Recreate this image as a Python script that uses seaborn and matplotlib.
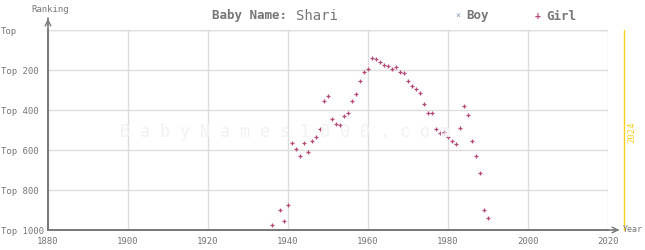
import matplotlib
matplotlib.use("Agg")
import matplotlib.pyplot as plt
import seaborn as sns
import pandas as pd

girl_years = [1936, 1938, 1939, 1940, 1941, 1942, 1943, 1944, 1945, 1946, 1947, 1948,
              1949, 1950, 1951, 1952, 1953, 1954, 1955, 1956, 1957, 1958, 1959, 1960,
              1961, 1962, 1963, 1964, 1965, 1966, 1967, 1968, 1969, 1970, 1971, 1972,
              1973, 1974, 1975, 1976, 1977, 1978, 1979, 1980, 1981, 1982, 1983, 1984,
              1985, 1986, 1987, 1988, 1989, 1990]
girl_ranks = [977, 902, 957, 877, 567, 597, 632, 567, 612, 557, 537, 497,
              357, 332, 447, 472, 477, 432, 417, 357, 322, 257, 212, 197,
              142, 147, 162, 177, 182, 197, 187, 212, 217, 257, 282, 297,
              317, 372, 417, 417, 497, 517, 512, 537, 557, 572, 492, 382,
              427, 557, 632, 717, 902, 942]
y_ticks = [0, 200, 400, 600, 800, 1000]
y_labels = ["Top", "Top 200", "Top 400", "Top 600", "Top 800", "Top 1000"]
x_ticks = [1880, 1900, 1920, 1940, 1960, 1980, 2000, 2020]

sns.set_style("white")
plt.rcParams['font.family'] = ['DejaVu Sans Mono', 'DejaVu Sans']

W, H = 645, 250
fig = plt.figure(figsize=(W / 100, H / 100), dpi=100)
ax = fig.add_axes([48 / W, 1 - 230 / H, 560 / W, 200 / H])

grid_c = "#dddddd"
axis_c = "#777777"
girl_c = "#b4497a"
boy_c = "#8899bb"
text_c = "#777777"

# watermark
fig.text(285 / W, 1 - 132 / H, "B a b y N a m e s 1 0 0 0 . c o m", fontsize=12,
         color="#f2f2f2", ha="center", va="center", zorder=0)

df = pd.DataFrame({"year": girl_years, "rank": girl_ranks})
sns.scatterplot(data=df, x="year", y="rank", ax=ax, marker="+", color=girl_c,
                s=9, linewidth=0.9, zorder=3, clip_on=False)

ax.patch.set_alpha(0)
ax.set_xlim(1880, 2020)
ax.set_ylim(1000, 0)
ax.set_xticks(x_ticks)
ax.set_xticklabels([str(v) for v in x_ticks], fontsize=6.5, color=text_c)
ax.set_yticks(y_ticks)
ax.set_yticklabels(y_labels, fontsize=6.5, color=text_c)
for lab in ax.get_yticklabels():
    lab.set_ha("left")
ax.tick_params(axis="y", length=0, pad=34)
ax.tick_params(axis="x", length=0, pad=5)
ax.grid(True, color=grid_c, linewidth=1)
ax.set_xlabel("")
ax.set_ylabel("")
for s in ["top", "right"]:
    ax.spines[s].set_visible(False)
ax.spines["left"].set_color(axis_c)
ax.spines["bottom"].set_color(axis_c)
ax.spines["left"].set_linewidth(1.2)
ax.spines["bottom"].set_linewidth(1.2)
ax.axhline(0, color=grid_c, linewidth=1, zorder=0)

# axis arrows
fig.add_artist(matplotlib.lines.Line2D([48 / W, 48 / W], [1 - 230 / H, 1 - 18 / H],
                                       color=axis_c, linewidth=1.2))
ax.annotate("", xy=(48 / W, 1 - 16 / H), xytext=(48 / W, 1 - 24 / H),
            xycoords="figure fraction",
            arrowprops=dict(arrowstyle="->", color=axis_c, lw=1.0))
fig.add_artist(matplotlib.lines.Line2D([48 / W, 618 / W], [1 - 230 / H, 1 - 230 / H],
                                       color=axis_c, linewidth=1.2))
ax.annotate("", xy=(622 / W, 1 - 230 / H), xytext=(613 / W, 1 - 230 / H),
            xycoords="figure fraction",
            arrowprops=dict(arrowstyle="->", color=axis_c, lw=1.0))
fig.text(623 / W, 1 - 230 / H, "Year", fontsize=6, color=text_c, ha="left", va="center")
fig.text(50 / W, 1 - 9 / H, "Ranking", fontsize=6.5, color=text_c, ha="center", va="center")

# 2024 line
x2024 = 48 + (2024 - 1880) * 4
fig.add_artist(matplotlib.lines.Line2D([x2024 / W, x2024 / W], [1 - 230 / H, 1 - 30 / H],
                                       color="#f5d020", linewidth=1))
fig.text((x2024 + 8) / W, 1 - 132 / H, "2024", fontsize=6.5, color="#f5d020",
         rotation=90, ha="center", va="center")

# title
fig.text(294 / W, 1 - 16 / H, "Baby Name: ", fontsize=9, fontweight="bold",
         color=text_c, ha="right", va="center")
fig.text(296 / W, 1 - 16 / H, "Shari", fontsize=10, color=text_c, ha="left", va="center")

# legend
fig.text(458 / W, 1 - 16 / H, "×", fontsize=6, color=boy_c, ha="center", va="center")
fig.text(466 / W, 1 - 16 / H, "Boy", fontsize=9, fontweight="bold", color=text_c,
         ha="left", va="center")
fig.text(538 / W, 1 - 16 / H, "+", fontsize=7, color=girl_c, ha="center", va="center",
         fontweight="bold")
fig.text(546 / W, 1 - 16 / H, "Girl", fontsize=9, fontweight="bold", color=text_c,
         ha="left", va="center")

fig.savefig("out.png", dpi=100)
